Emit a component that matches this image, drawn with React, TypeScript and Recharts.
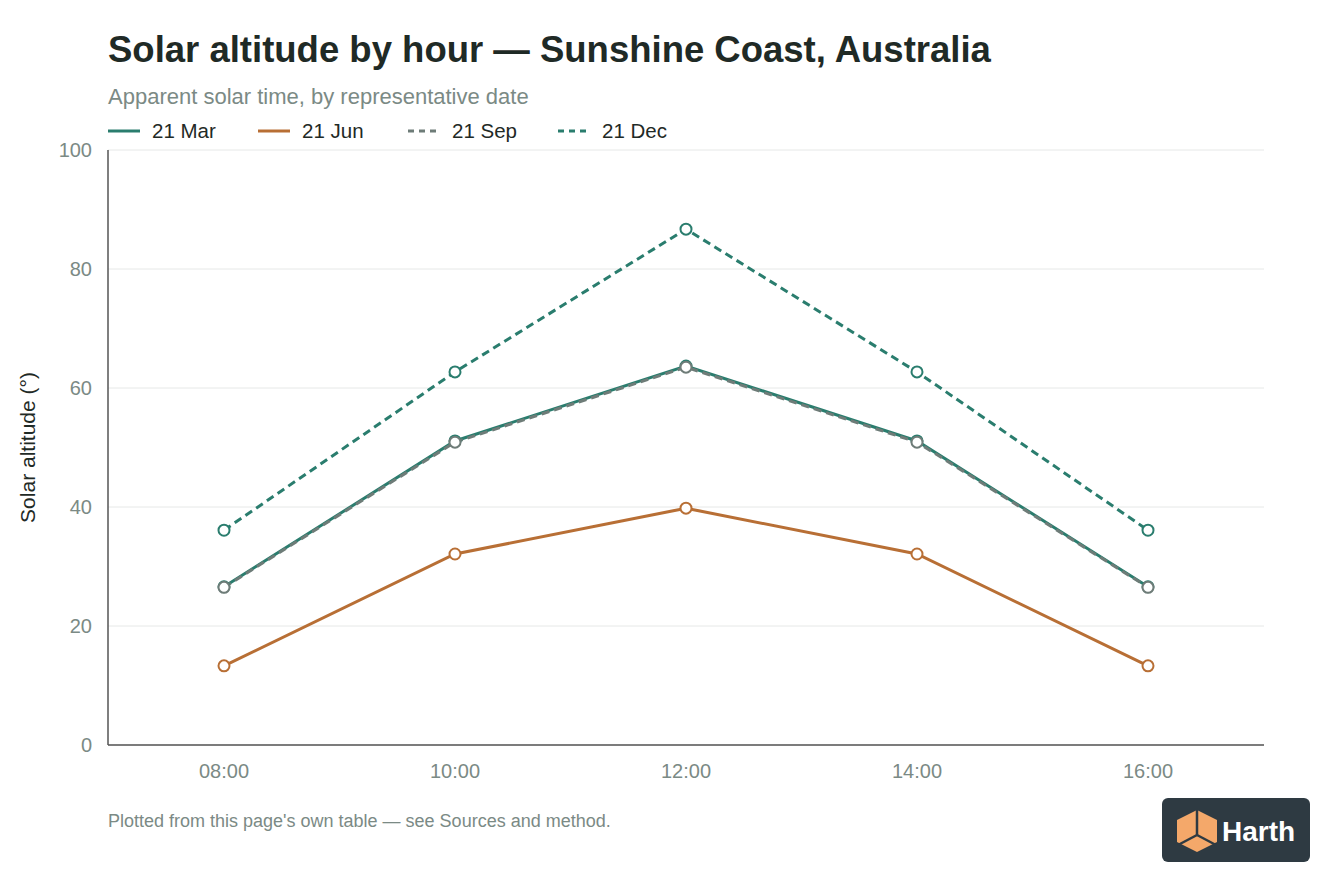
import { CartesianGrid, Line, LineChart, XAxis, YAxis } from 'recharts'

const hours = ['08:00', '10:00', '12:00', '14:00', '16:00']
const mar = [26.6, 51.1, 63.7, 51.1, 26.6]
const jun = [13.3, 32.1, 39.8, 32.1, 13.3]
const sep = [26.5, 50.9, 63.5, 50.9, 26.5]
const dec = [36.1, 62.7, 86.7, 62.7, 36.1]
const yTicks = [0, 20, 40, 60, 80, 100]

const FONT = '"Liberation Sans", Arial, Helvetica, sans-serif'
const TEAL = '#2a7d6e'
const COPPER = '#b86f35'
const GREY = '#6e7c78'
const MUTED = '#7b8a85'

const series = [
  { key: 'dec', label: '21 Dec', color: TEAL, dash: '8 5' },
  { key: 'jun', label: '21 Jun', color: COPPER, dash: undefined },
  { key: 'mar', label: '21 Mar', color: TEAL, dash: undefined },
  { key: 'sep', label: '21 Sep', color: GREY, dash: '8 5' },
]

const legendOrder = ['mar', 'jun', 'sep', 'dec']

const data = hours.map((h, i) => ({ hour: h, mar: mar[i], jun: jun[i], sep: sep[i], dec: dec[i] }))

function Logo() {
  return (
    <svg width={148} height={64} style={{ position: 'absolute', left: 1162, top: 798 }}>
      <rect x={0} y={0} width={148} height={64} rx={6} fill="#2e3a42" />
      <polygon points="15,22 35,12 55,22 55,44 35,54 15,44" fill="#f4a86a" />
      <line x1={35} y1={12} x2={35} y2={37} stroke="#2e3a42" strokeWidth={2.5} />
      <line x1={35} y1={37} x2={16} y2={47} stroke="#2e3a42" strokeWidth={2.5} />
      <line x1={35} y1={37} x2={54} y2={47} stroke="#2e3a42" strokeWidth={2.5} />
      <text x={60} y={43} fill="#ffffff" fontFamily={FONT} fontWeight={700} fontSize={28}>
        Harth
      </text>
    </svg>
  )
}

export default function App() {
  return (
    <div
      style={{
        position: 'fixed',
        left: 0,
        top: 0,
        width: 1344,
        height: 896,
        background: '#ffffff',
        fontFamily: FONT,
        overflow: 'hidden',
      }}
    >
      <div style={{ position: 'absolute', left: 108, top: 29, fontSize: 36.5, fontWeight: 600, color: '#1f2a26', whiteSpace: 'nowrap' }}>
        Solar altitude by hour — Sunshine Coast, Australia
      </div>
      <div style={{ position: 'absolute', left: 108, top: 84, fontSize: 22, color: MUTED, whiteSpace: 'nowrap' }}>
        Apparent solar time, by representative date
      </div>
      {legendOrder.map((k, i) => {
        const s = series.find((x) => x.key === k)!
        return (
          <div key={k} style={{ position: 'absolute', left: 108 + i * 150, top: 119, height: 24, display: 'flex', alignItems: 'center' }}>
            <svg width={32} height={4}>
              <line x1={0} y1={2} x2={32} y2={2} stroke={s.color} strokeWidth={3} strokeDasharray={s.dash ? '6 5' : undefined} />
            </svg>
            <span style={{ marginLeft: 12, fontSize: 20.5, color: '#1f2a26' }}>{s.label}</span>
          </div>
        )
      })}
      <div style={{ position: 'absolute', left: 0, top: 0 }}>
        <LineChart width={1344} height={896} data={data} margin={{ top: 150, right: 80, left: 48, bottom: 111 }}>
          <CartesianGrid vertical={false} stroke="#e6e8e7" />
          <XAxis
            dataKey="hour"
            padding={{ left: 116, right: 116 }}
            tickLine={false}
            tickMargin={13}
            axisLine={{ stroke: '#555', strokeWidth: 1.5 }}
            tick={{ fill: MUTED, fontSize: 20, fontFamily: FONT }}
            height={40}
          />
          <YAxis
            domain={[0, 100]}
            ticks={yTicks}
            width={60}
            tickLine={false}
            tickMargin={10}
            axisLine={{ stroke: '#555', strokeWidth: 1.5 }}
            tick={{ fill: MUTED, fontSize: 20, fontFamily: FONT }}
            label={{
              value: 'Solar altitude (°)',
              angle: -90,
              position: 'insideLeft',
              offset: -20,
              style: { textAnchor: 'middle', fill: '#1f2a26', fontSize: 21, fontFamily: FONT },
            }}
          />
          {series.map((s) => (
            <Line
              key={s.key}
              dataKey={s.key}
              name={s.label}
              stroke={s.color}
              strokeWidth={3}
              strokeDasharray={s.dash}
              dot={{ r: 5.5, fill: '#ffffff', stroke: s.color, strokeWidth: 2, strokeDasharray: 'none' }}
              isAnimationActive={false}
            />
          ))}
        </LineChart>
      </div>
      <div style={{ position: 'absolute', left: 108, top: 811, fontSize: 18, color: MUTED, whiteSpace: 'nowrap' }}>
        Plotted from this page's own table — see Sources and method.
      </div>
      <Logo />
    </div>
  )
}
